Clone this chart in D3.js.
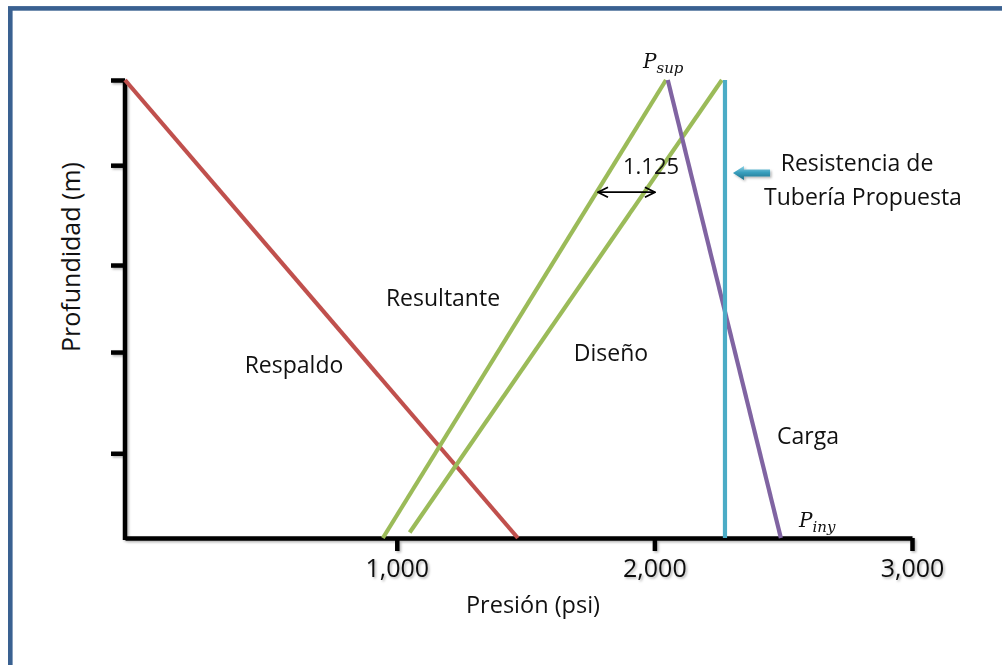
<!DOCTYPE html>
<html>
<head>
<meta charset="utf-8">
<script src="https://cdn.jsdelivr.net/npm/d3@7"></script>
<style>
  html, body { margin: 0; padding: 0; background: #fff; }
  svg { display: block; font-family: "Open Sans", "Lato", sans-serif; }
</style>
</head>
<body>
<svg id="chart" width="1002" height="665"></svg>
<script>
// Pressure (psi) vs depth (relative, 0 = surface, 1000 = bottom)
const presionDominio = [-55, 3000];
const profundidadDominio = [0, 1000];
const presionTicks = [1000, 2000, 3000];
const profundidadTicks = [0, 186, 404, 594, 815];

// Each line: [pressure at surface, pressure at bottom]
const respaldo   = [[-55, 0], [1470, 1000]];
const resultante = [[2045, 0], [946, 1000]];
const diseno     = [[2262, 0], [1050, 988]];
const carga      = [[2052, 0], [2491, 1000]];
const resistencia = [[2274, 0], [2274, 1000]];

// Design factor annotation and pointer to the pipe strength line
const factorDiseno = "1.125";
const factorFlecha = [[1781, 245], [2002, 245]];
const flechaResistencia = [[2305, 203], [2449, 203]];

const svg = d3.select("#chart");
const x = d3.scaleLinear().domain(presionDominio).range([125, 912]);
const y = d3.scaleLinear().domain(profundidadDominio).range([80, 538]);

// Frame
svg.append("rect")
  .attr("x", 10.3).attr("y", 8.4)
  .attr("width", 1100).attr("height", 800)
  .attr("fill", "none").attr("stroke", "#3a6191").attr("stroke-width", 4.6);

const defs = svg.append("defs");
const sombra = defs.append("filter").attr("id", "sombra")
  .attr("x", "-10%").attr("y", "-10%").attr("width", "130%").attr("height", "130%");
sombra.append("feDropShadow").attr("dx", 1.5).attr("dy", 1.5)
  .attr("stdDeviation", 1.2).attr("flood-color", "#000").attr("flood-opacity", 0.3);

const grad = defs.append("linearGradient").attr("id", "gradFlecha")
  .attr("x1", 0).attr("y1", 0).attr("x2", 0).attr("y2", 1);
grad.append("stop").attr("offset", "0%").attr("stop-color", "#8fd3e6");
grad.append("stop").attr("offset", "45%").attr("stop-color", "#3aa0bf");
grad.append("stop").attr("offset", "100%").attr("stop-color", "#1d6f88");

defs.append("marker").attr("id", "chevron")
  .attr("viewBox", "0 0 12 12").attr("refX", 11).attr("refY", 6)
  .attr("markerWidth", 12).attr("markerHeight", 12)
  .attr("markerUnits", "userSpaceOnUse").attr("orient", "auto-start-reverse")
  .append("path").attr("d", "M1,1 L11,6 L1,11")
  .attr("fill", "none").attr("stroke", "#000").attr("stroke-width", 1.8);

// Axes
const axesG = svg.append("g").attr("filter", "url(#sombra)");

const xAxis = d3.axisBottom(x).tickValues(presionTicks)
  .tickSize(13).tickSizeOuter(0).tickFormat(d3.format(","));
const gx = axesG.append("g").attr("transform", `translate(0,${y(1000)})`).call(xAxis);
gx.select(".domain").attr("stroke", "#000").attr("stroke-width", 4.5);
gx.selectAll(".tick line").attr("stroke", "#000").attr("stroke-width", 4.5);
gx.selectAll(".tick text").attr("font-size", 25).attr("fill", "#111")
  .attr("font-family", "Open Sans, sans-serif").attr("y", 39).attr("dy", 0);

const yAxis = d3.axisLeft(y).tickValues(profundidadTicks)
  .tickSize(14).tickSizeOuter(0).tickFormat("");
const gy = axesG.append("g").attr("transform", `translate(${x(presionDominio[0])},0)`).call(yAxis);
gy.select(".domain").attr("stroke", "#000").attr("stroke-width", 4.5)
  .attr("d", `M0,${y(0)}V${y(1000) + 2}`);
gy.selectAll(".tick line").attr("stroke", "#000").attr("stroke-width", 4.5);

// Pressure lines
const linea = d3.line().x(d => x(d[0])).y(d => y(d[1]));
const series = [
  { datos: respaldo, color: "#c0504d" },
  { datos: resultante, color: "#9bbb59" },
  { datos: diseno, color: "#9bbb59" },
  { datos: carga, color: "#8064a2" },
  { datos: resistencia, color: "#4bacc6" }
];
svg.append("g").selectAll("path").data(series).join("path")
  .attr("d", d => linea(d.datos))
  .attr("fill", "none").attr("stroke", d => d.color)
  .attr("stroke-width", 4.2);

// Design factor double arrow
svg.append("line")
  .attr("x1", x(factorFlecha[0][0])).attr("y1", y(factorFlecha[0][1]))
  .attr("x2", x(factorFlecha[1][0])).attr("y2", y(factorFlecha[1][1]))
  .attr("stroke", "#000").attr("stroke-width", 1.8)
  .attr("marker-start", "url(#chevron)").attr("marker-end", "url(#chevron)");

svg.append("text").attr("x", 651).attr("y", 174)
  .attr("text-anchor", "middle").attr("font-size", 22).attr("fill", "#111")
  .text(factorDiseno);

// Block arrow pointing at the pipe strength line
{
  const x0 = x(flechaResistencia[0][0]), x1 = x(flechaResistencia[1][0]);
  const yc = y(flechaResistencia[0][1]);
  const head = 11;
  svg.append("path")
    .attr("d", `M${x0},${yc} L${x0 + head},${yc - 7} L${x0 + head},${yc - 3.5} L${x1},${yc - 3.5}
               L${x1},${yc + 3.5} L${x0 + head},${yc + 3.5} L${x0 + head},${yc + 7} Z`)
    .attr("fill", "url(#gradFlecha)").attr("filter", "url(#sombra)");
}

// Labels
const etiquetas = [
  { t: "Resultante", x: 443, y: 306 },
  { t: "Respaldo", x: 294, y: 373 },
  { t: "Diseño", x: 611, y: 361 },
  { t: "Carga", x: 808, y: 444 },
  { t: "Resistencia de", x: 857, y: 171 },
  { t: "Tubería Propuesta", x: 863, y: 205 }
];
svg.append("g").selectAll("text").data(etiquetas).join("text")
  .attr("x", d => d.x).attr("y", d => d.y)
  .attr("text-anchor", "middle").attr("font-size", 23).attr("fill", "#111")
  .text(d => d.t);

// Pressure symbols with subscripts
function simbolo(px, py, sub) {
  const t = svg.append("text").attr("x", px).attr("y", py)
    .attr("font-family", "DejaVu Serif, Liberation Serif, serif")
    .attr("font-style", "italic").attr("font-size", 20).attr("fill", "#111");
  t.append("tspan").text("P");
  t.append("tspan").attr("dy", 5).attr("font-size", 15).text(sub);
}
simbolo(643, 68, "sup");
simbolo(799, 527, "iny");

// Axis titles
svg.append("text").attr("x", 533).attr("y", 613)
  .attr("text-anchor", "middle").attr("font-size", 23.5).attr("fill", "#111")
  .text("Presión (psi)");
svg.append("text")
  .attr("transform", "translate(80,257) rotate(-90)")
  .attr("text-anchor", "middle").attr("font-size", 25).attr("fill", "#111")
  .text("Profundidad (m)");
</script>
</body>
</html>
